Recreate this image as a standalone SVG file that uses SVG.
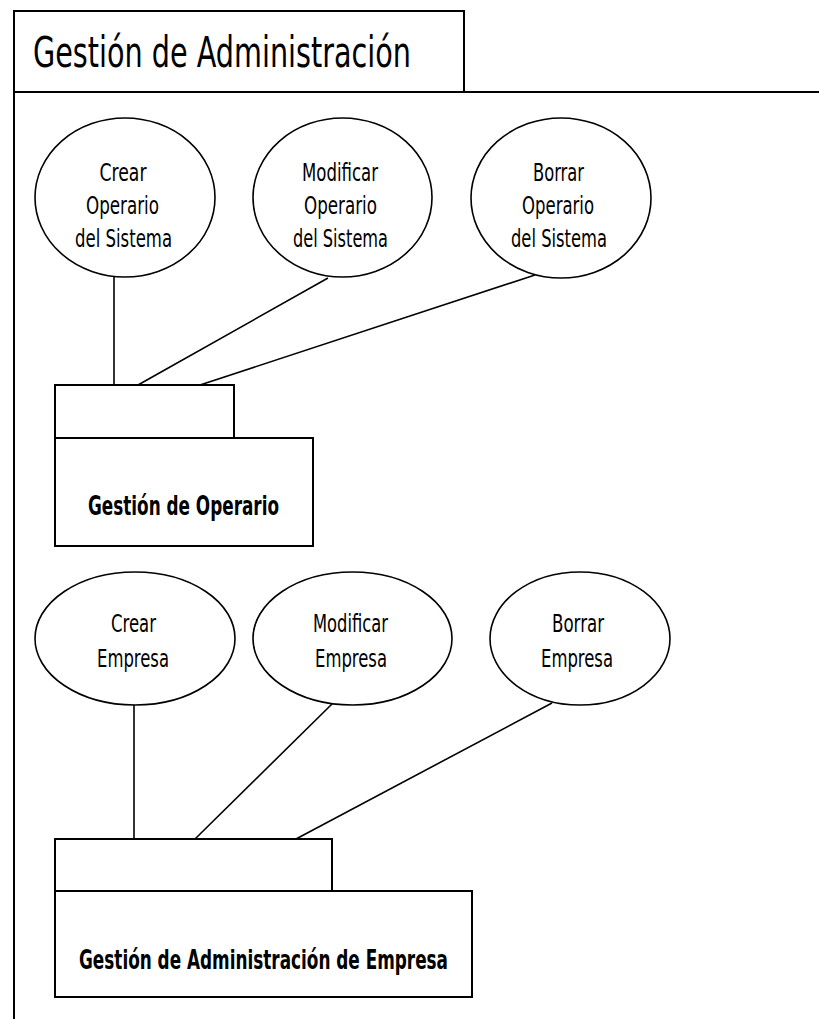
<svg xmlns="http://www.w3.org/2000/svg" width="819" height="1019" viewBox="0 0 819 1019">
  <style>
    .frame { fill: none; stroke: #000; stroke-width: 2; }
    .box { fill: #fff; stroke: #000; stroke-width: 2; }
    .uc { fill: #fff; stroke: #000; stroke-width: 1.6; }
    .link { fill: none; stroke: #000; stroke-width: 1.6; }
    .lbl { font-family: "DejaVu Sans", "Liberation Sans", sans-serif; font-size: 24px; fill: #000; text-anchor: middle; }
    .pkg { font-family: "DejaVu Sans", "Liberation Sans", sans-serif; font-size: 27px; font-weight: bold; fill: #000; text-anchor: middle; }
    .title { font-family: "DejaVu Sans", "Liberation Sans", sans-serif; font-size: 42px; fill: #000; }
  </style>
  <rect width="819" height="1019" fill="#fff"/>

  <!-- outer frame with name tab -->
  <g id="frame">
    <rect class="frame" x="14" y="11" width="450" height="81"/>
    <line class="frame" x1="14" y1="92" x2="819" y2="92"/>
    <line class="frame" x1="14" y1="11" x2="14" y2="1019"/>
    <text class="title" x="33" y="67" textLength="378" lengthAdjust="spacingAndGlyphs">Gestión de Administración</text>
  </g>

  <!-- associations -->
  <g id="connectors">
    <line class="link" x1="114" y1="277" x2="114" y2="385"/>
    <line class="link" x1="328" y1="278" x2="138" y2="385"/>
    <line class="link" x1="535" y1="275" x2="200" y2="385"/>
    <line class="link" x1="134" y1="705" x2="134" y2="839"/>
    <line class="link" x1="332" y1="704" x2="195" y2="839"/>
    <line class="link" x1="552" y1="703" x2="296" y2="839"/>
  </g>

  <!-- operator use cases -->
  <g id="uc-crear-operario">
    <ellipse class="uc" cx="125" cy="197.5" rx="90" ry="79.5"/>
    <text class="lbl" x="123" y="181" textLength="47" lengthAdjust="spacingAndGlyphs">Crear</text>
    <text class="lbl" x="122.5" y="214" textLength="73" lengthAdjust="spacingAndGlyphs">Operario</text>
    <text class="lbl" x="123.5" y="247" textLength="97" lengthAdjust="spacingAndGlyphs">del Sistema</text>
  </g>
  <g id="uc-modificar-operario">
    <ellipse class="uc" cx="342.5" cy="197.5" rx="89.5" ry="79.5"/>
    <text class="lbl" x="340" y="181" textLength="76" lengthAdjust="spacingAndGlyphs">Modificar</text>
    <text class="lbl" x="340.5" y="214" textLength="73" lengthAdjust="spacingAndGlyphs">Operario</text>
    <text class="lbl" x="340.5" y="247" textLength="95" lengthAdjust="spacingAndGlyphs">del Sistema</text>
  </g>
  <g id="uc-borrar-operario">
    <ellipse class="uc" cx="561" cy="198" rx="90" ry="80"/>
    <text class="lbl" x="558.5" y="181" textLength="51" lengthAdjust="spacingAndGlyphs">Borrar</text>
    <text class="lbl" x="558" y="214" textLength="72" lengthAdjust="spacingAndGlyphs">Operario</text>
    <text class="lbl" x="559" y="247" textLength="96" lengthAdjust="spacingAndGlyphs">del Sistema</text>
  </g>

  <!-- package: Gestión de Operario -->
  <g id="pkg-operario">
    <rect class="box" x="55" y="385" width="179" height="53"/>
    <rect class="box" x="55" y="438" width="258" height="108"/>
    <text class="pkg" x="183.5" y="515" textLength="191" lengthAdjust="spacingAndGlyphs">Gestión de Operario</text>
  </g>

  <!-- company use cases -->
  <g id="uc-crear-empresa">
    <ellipse class="uc" cx="135" cy="638.5" rx="100" ry="66.5"/>
    <text class="lbl" x="133.5" y="632" textLength="45" lengthAdjust="spacingAndGlyphs">Crear</text>
    <text class="lbl" x="133" y="667" textLength="72" lengthAdjust="spacingAndGlyphs">Empresa</text>
  </g>
  <g id="uc-modificar-empresa">
    <ellipse class="uc" cx="352.5" cy="638.5" rx="99.5" ry="66.5"/>
    <text class="lbl" x="350.5" y="632" textLength="75" lengthAdjust="spacingAndGlyphs">Modificar</text>
    <text class="lbl" x="351" y="667" textLength="72" lengthAdjust="spacingAndGlyphs">Empresa</text>
  </g>
  <g id="uc-borrar-empresa">
    <ellipse class="uc" cx="580" cy="638.5" rx="90" ry="66.5"/>
    <text class="lbl" x="578" y="632" textLength="52" lengthAdjust="spacingAndGlyphs">Borrar</text>
    <text class="lbl" x="577" y="667" textLength="72" lengthAdjust="spacingAndGlyphs">Empresa</text>
  </g>

  <!-- package: Gestión de Administración de Empresa -->
  <g id="pkg-empresa">
    <rect class="box" x="55" y="839" width="277" height="52"/>
    <rect class="box" x="55" y="891" width="417" height="106"/>
    <text class="pkg" x="263.5" y="969" textLength="369" lengthAdjust="spacingAndGlyphs">Gestión de Administración de Empresa</text>
  </g>
</svg>
